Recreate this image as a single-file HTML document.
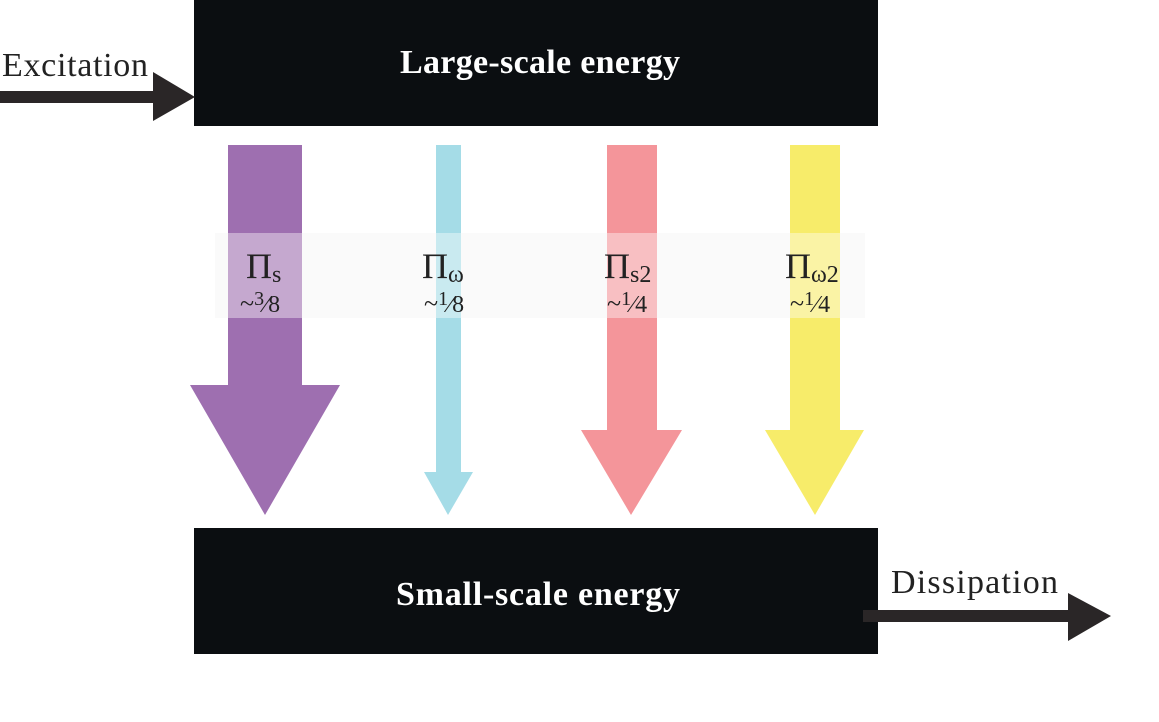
<!DOCTYPE html>
<html><head><style>
body{margin:0;background:#fff;width:1159px;height:722px;overflow:hidden}
</style></head><body>
<svg width="1159" height="722" xmlns="http://www.w3.org/2000/svg" style="display:block">
<rect width="1159" height="722" fill="#fff"/>
<rect x="194" y="0" width="684" height="126" fill="#0b0e11"/>
<rect x="194" y="528" width="684" height="126" fill="#0b0e11"/>
<text x="540" y="73" text-anchor="middle" font-family="Liberation Serif, serif" font-weight="bold" font-size="34" textLength="280" fill="#fff">Large-scale energy</text>
<text x="538" y="605" text-anchor="middle" font-family="Liberation Serif, serif" font-weight="bold" font-size="34" textLength="284" fill="#fff">Small-scale energy</text>
<rect x="0" y="91" width="156" height="12" fill="#2a2627"/>
<polygon points="153,72 195,97 153,121" fill="#2a2627"/>
<text x="2" y="76" font-family="Liberation Serif, serif" font-size="34" textLength="146" fill="#222">Excitation</text>
<rect x="863" y="610" width="207" height="12" fill="#2a2627"/>
<polygon points="1068,593 1111,616 1068,641" fill="#2a2627"/>
<text x="891" y="593" font-family="Liberation Serif, serif" font-size="34" textLength="167" fill="#222">Dissipation</text>
<rect x="228" y="145" width="74" height="242" fill="#9e6fb0"/>
<polygon points="190,385 340,385 265,515" fill="#9e6fb0"/>
<rect x="436" y="145" width="25" height="328" fill="#a5dce7"/>
<polygon points="424,472 473,472 448,515" fill="#a5dce7"/>
<rect x="607" y="145" width="50" height="287" fill="#f4959a"/>
<polygon points="581,430 682,430 631,515" fill="#f4959a"/>
<rect x="790" y="145" width="50" height="287" fill="#f7ec6a"/>
<polygon points="765,430 864,430 815,515" fill="#f7ec6a"/>
<rect x="215" y="233" width="13" height="85" fill="#fafafa"/>
<rect x="302" y="233" width="134" height="85" fill="#fafafa"/>
<rect x="461" y="233" width="146" height="85" fill="#fafafa"/>
<rect x="657" y="233" width="133" height="85" fill="#fafafa"/>
<rect x="840" y="233" width="25" height="85" fill="#fafafa"/>
<rect x="228" y="233" width="74" height="85" fill="#fff" fill-opacity="0.4"/>
<rect x="436" y="233" width="25" height="85" fill="#fff" fill-opacity="0.4"/>
<rect x="607" y="233" width="50" height="85" fill="#fff" fill-opacity="0.4"/>
<rect x="790" y="233" width="50" height="85" fill="#fff" fill-opacity="0.4"/>
<g font-family="Liberation Serif, serif" fill="#222">
<text x="246" y="278" font-size="36">Π<tspan font-size="24" dy="4">s</tspan></text>
<text x="240" y="312" font-size="26">~<tspan font-size="20" dy="-7">3</tspan><tspan font-size="24" dy="7">⁄8</tspan></text>
<text x="422" y="278" font-size="36">Π<tspan font-size="24" dy="4">ω</tspan></text>
<text x="424" y="312" font-size="26">~<tspan font-size="20" dy="-7">1</tspan><tspan font-size="24" dy="7">⁄8</tspan></text>
<text x="604" y="278" font-size="36">Π<tspan font-size="24" dy="4">s2</tspan></text>
<text x="607" y="312" font-size="26">~<tspan font-size="20" dy="-7">1</tspan><tspan font-size="24" dy="7">⁄4</tspan></text>
<text x="785" y="278" font-size="36">Π<tspan font-size="24" dy="4">ω2</tspan></text>
<text x="790" y="312" font-size="26">~<tspan font-size="20" dy="-7">1</tspan><tspan font-size="24" dy="7">⁄4</tspan></text>
</g>
</svg>
</body></html>
